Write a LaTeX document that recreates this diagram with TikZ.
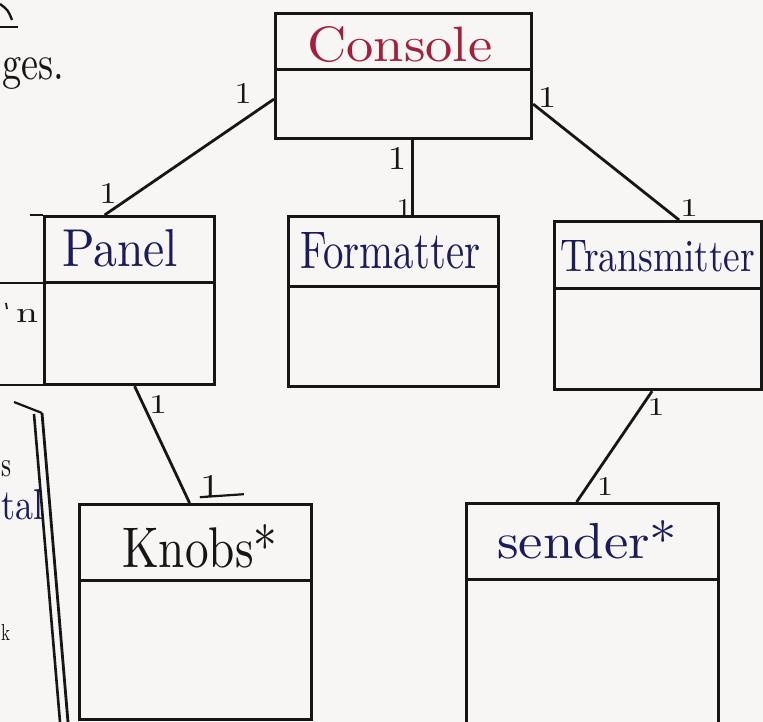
\documentclass[tikz,border=0pt]{standalone}
\usepackage{graphicx}
\definecolor{paper}{HTML}{F8F6F5}
\definecolor{ink}{HTML}{161616}
\definecolor{redink}{HTML}{A3203C}
\definecolor{navyink}{HTML}{1C1C5A}
% handwritten-style label stretched to a given width and height
\newcommand{\handlabel}[3]{\resizebox{#1pt}{#2pt}{#3}}
\begin{document}
\begin{tikzpicture}[x=1pt,y=-1pt,
  classbox/.style={draw=ink, line width=3.2pt, rectangle, inner sep=0pt, anchor=north west},
  rule/.style={draw=ink, line width=3pt},
  link/.style={draw=ink, line width=2.8pt},
  mult/.style={text=ink, inner sep=0pt},
  title/.style={inner sep=0pt, anchor=base west},
  scrap/.style={inner sep=0pt, anchor=base west}]

\useasboundingbox (0,0) rectangle (763,722);
\fill[paper] (0,0) rectangle (763,722);
\clip (0,0) rectangle (763,722);

% class boxes
\node[classbox, minimum width=256, minimum height=125] (console) at (274,12) {};
\node[classbox, minimum width=170, minimum height=168] (panel) at (43,215) {};
\node[classbox, minimum width=210, minimum height=170] (formatter) at (287,215) {};
\node[classbox, minimum width=207, minimum height=168] (transmitter) at (553,220) {};
\node[classbox, minimum width=232, minimum height=215] (knobs) at (78,503) {};
\node[classbox, minimum width=252, minimum height=230] (sender) at (465,502) {};

% compartment dividers
\draw[rule] (console.west |- 0,70) -- (console.east |- 0,70);
\draw[rule] (panel.west |- 0,282) -- (panel.east |- 0,282);
\draw[rule] (formatter.west |- 0,286) -- (formatter.east |- 0,286);
\draw[rule] (transmitter.west |- 0,288) -- (transmitter.east |- 0,288);
\draw[rule] (knobs.west |- 0,580) -- (knobs.east |- 0,580);
\draw[rule] (sender.west |- 0,579) -- (sender.east |- 0,579);

% class names
\node[title, text=redink] (tconsole) at (307,62) {\handlabel{185}{35}{Console}};
\node[title, text=navyink] (tpanel) at (62,266) {\handlabel{116}{37}{Panel}};
\node[title, text=navyink] (tformatter) at (300,268) {\handlabel{180}{36}{Formatter}};
\node[title, text=navyink] (ttransmitter) at (560,271) {\handlabel{195}{31}{Transmitter}};
\node[title, text=ink] (tknobs) at (122,567) {\handlabel{155}{43}{Knobs*}};
\node[title, text=navyink] (tsender) at (497,558) {\handlabel{180}{38}{sender*}};

% associations
\draw[link] ([yshift=-23pt]console.west) -- ([xshift=-25pt]panel.north);
\draw[link] ([xshift=9pt]console.south) -- ([xshift=19pt]formatter.north);
\draw[link] ([yshift=-28pt]console.east) -- ([xshift=21pt]transmitter.north);
\draw[link] ([xshift=5pt]panel.south) -- ([xshift=-6pt]knobs.north);
\draw[link] ([xshift=-6pt]transmitter.south) -- ([xshift=-16pt]sender.north);

% multiplicities
\node[mult] (m1) at (243,93) {\handlabel{17}{20}{1}};
\node[mult] (m2) at (108,193) {\handlabel{17}{20}{1}};
\node[mult] (m3) at (397,158) {\handlabel{18}{22}{1}};
\node[mult] (m4) at (404,208) {\handlabel{15}{18}{1}};
\node[mult] (m5) at (547,97) {\handlabel{18}{20}{1}};
\node[mult] (m6) at (689,208) {\handlabel{18}{17}{1}};
\node[mult] (m7) at (158,404) {\handlabel{18}{18}{1}};
\node[mult] (m8) at (210,486) {\handlabel{20}{22}{1}};
\draw[ink, line width=2.2pt] (m8.south west) -- ++(44,-3);
\node[mult] (m9) at (656,407) {\handlabel{17}{17}{1}};
\node[mult] (m10) at (605,486) {\handlabel{16}{18}{1}};

% neighbouring notes along the left margin
\draw[rule, line width=2.4pt] (0,27) -- (18,27);
\draw[ink, line width=2.4pt] (0,4) .. controls (8,10) .. (12,20);
\node[scrap, text=ink] (s1) at (2,80) {\handlabel{62}{22}{ges.}};
\draw[rule, line width=2.4pt] (0,283) -- (panel.west |- 0,283);
\draw[rule, line width=2.4pt] (0,385) -- (panel.west |- 0,385);
\draw[rule, line width=2.4pt] (30,215) -- (panel.north west);
\node[scrap, text=ink] (s3) at (16,322) {\handlabel{22}{13}{n}};
\draw[ink, line width=1.8pt] (6,303) -- (7,309);
\node[scrap, text=ink] (s4) at (1,476) {\handlabel{10}{16}{s}};
\node[scrap, text=navyink] (s5) at (1,519) {\handlabel{42}{30}{tal}};
\node[scrap, text=ink] (s6) at (1,640) {\handlabel{9}{16}{k}};
\coordinate (e1) at (14,402);
\coordinate (e2) at (42,413);
\coordinate (e3) at (34,414);
\draw[ink, line width=2.2pt] (e1) -- (e2);
\draw[ink, line width=2.6pt] (e3) -- (60,722);
\draw[ink, line width=2.8pt] (e2) -- (68,722);
\end{tikzpicture}
\end{document}
